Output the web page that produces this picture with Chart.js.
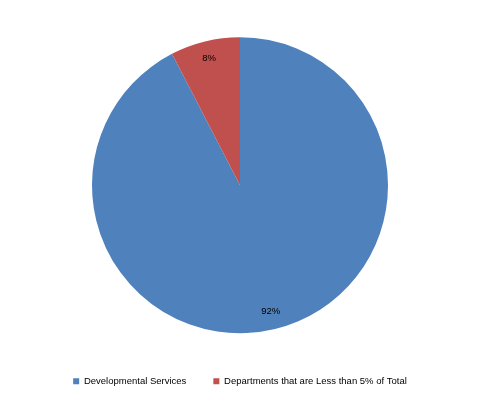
<!DOCTYPE html>
<html>
<head>
<meta charset="utf-8">
<script src="https://cdn.jsdelivr.net/npm/chart.js@4"></script>
<style>
  html, body { margin: 0; padding: 0; background: #fff; }
  #wrap { width: 480px; height: 400px; }
</style>
</head>
<body>
<div id="wrap"><canvas id="chart"></canvas></div>
<script>
const categories = ["Developmental Services", "Departments that are Less than 5% of Total"];
const values = [92.4, 7.6];
const valueLabels = ["92%", "8%"];
const colors = ["#4F81BD", "#C0504D"];

// draws the percent text inside each slice
const sliceLabels = {
  id: "sliceLabels",
  afterDatasetsDraw(chart) {
    const ctx = chart.ctx;
    const meta = chart.getDatasetMeta(0);
    ctx.save();
    ctx.font = "9.5px 'Liberation Sans'";
    ctx.fillStyle = "#000";
    ctx.textAlign = "center";
    ctx.textBaseline = "middle";
    meta.data.forEach((arc, i) => {
      const mid = (arc.startAngle + arc.endAngle) / 2;
      const r = arc.outerRadius * 0.88;
      ctx.fillText(valueLabels[i], arc.x + Math.cos(mid) * r, arc.y + Math.sin(mid) * r);
    });
    ctx.restore();
  }
};

new Chart(document.getElementById("chart"), {
  type: "pie",
  data: {
    labels: categories,
    datasets: [{
      data: values,
      backgroundColor: colors,
      borderWidth: 0
    }]
  },
  options: {
    responsive: true,
    maintainAspectRatio: false,
    animation: false,
    radius: 148,
    layout: { padding: { top: 21, bottom: 4 } },
    plugins: {
      legend: {
        position: "bottom",
        labels: {
          boxWidth: 6,
          boxHeight: 6,
          padding: 27,
          color: "#000",
          font: { family: "'Liberation Sans'", size: 9.5 }
        }
      },
      tooltip: { enabled: false }
    }
  },
  plugins: [sliceLabels]
});
</script>
</body>
</html>
